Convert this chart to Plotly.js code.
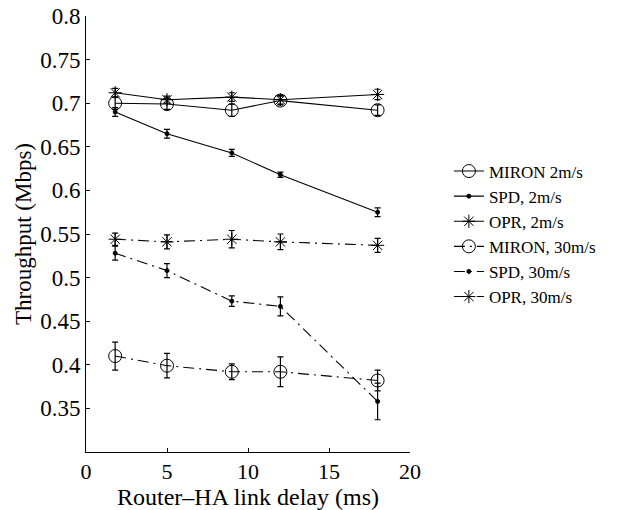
<!DOCTYPE html>
<html>
<head>
<meta charset="utf-8">
<script src="https://cdn.plot.ly/plotly-3.0.1.min.js"></script>
<style>html,body{margin:0;padding:0;background:#fff;}#chart{width:632px;height:510px;}</style>
</head>
<body>
<div id="chart"></div>
<script>
const delays = [1.8, 5, 9, 12, 18];

const mironSlow = [0.700, 0.699, 0.692, 0.703, 0.692];
const mironSlowErr = [0.007, 0.006, 0.007, 0.005, 0.006];
const spdSlow = [0.690, 0.665, 0.643, 0.618, 0.575];
const spdSlowErr = [0.005, 0.005, 0.004, 0.003, 0.005];
const oprSlow = [0.712, 0.704, 0.707, 0.704, 0.710];
const oprSlowErr = [0.005, 0.004, 0.005, 0.005, 0.006];

const mironFast = [0.410, 0.399, 0.392, 0.392, 0.382];
const mironFastErr = [0.016, 0.014, 0.009, 0.017, 0.012];
const spdFast = [0.528, 0.508, 0.473, 0.467, 0.358];
const spdFastErr = [0.008, 0.008, 0.006, 0.011, 0.021];
const oprFast = [0.544, 0.541, 0.544, 0.541, 0.537];
const oprFastErr = [0.007, 0.008, 0.010, 0.009, 0.008];

const names = ['MIRON 2m/s', 'SPD, 2m/s', 'OPR, 2m/s', 'MIRON, 30m/s', 'SPD, 30m/s', 'OPR, 30m/s'];
const yTicks = [0.35, 0.4, 0.45, 0.5, 0.55, 0.6, 0.65, 0.7, 0.75, 0.8];
const yTickText = ['0.35', '0.4', '0.45', '0.5', '0.55', '0.6', '0.65', '0.7', '0.75', '0.8'];
const xTicks = [0, 5, 10, 15, 20];

const DASHDOT = '11px,5px,2px,5px';

function series(name, y, err, symbol, size, dash) {
  return {
    x: delays, y: y, name: name, type: 'scatter', mode: 'lines+markers',
    line: {color: '#000', width: 1.1, dash: dash},
    marker: {symbol: symbol, size: size, color: '#000', line: {color: '#000', width: 1}},
    error_y: {type: 'data', array: err, visible: true, color: '#000', thickness: 1.2, width: 3}
  };
}

const data = [
  series(names[0], mironSlow, mironSlowErr, 'circle-open', 13, 'solid'),
  series(names[1], spdSlow, spdSlowErr, 'circle', 4, 'solid'),
  series(names[2], oprSlow, oprSlowErr, 'asterisk-open', 11, 'solid'),
  series(names[3], mironFast, mironFastErr, 'circle-open', 13, DASHDOT),
  series(names[4], spdFast, spdFastErr, 'circle', 4, DASHDOT),
  series(names[5], oprFast, oprFastErr, 'asterisk-open', 11, DASHDOT)
];

const FAM = 'Liberation Serif, Times New Roman, DejaVu Serif, serif';

const layout = {
  width: 632, height: 510,
  margin: {l: 86, r: 222, t: 16, b: 58},
  paper_bgcolor: '#fff', plot_bgcolor: '#fff',
  font: {family: FAM, size: 20, color: '#000'},
  showlegend: true,
  legend: {
    x: 1.12, y: 0.5, xanchor: 'left', yanchor: 'middle',
    font: {family: FAM, size: 17, color: '#000'},
    bgcolor: 'rgba(0,0,0,0)', tracegroupgap: 0
  },
  xaxis: {
    range: [0, 20], tickvals: xTicks, ticks: 'inside', ticklen: 4, tickcolor: '#000',
    showline: true, linecolor: '#000', linewidth: 1, showgrid: false, zeroline: false,
    tickfont: {family: FAM, size: 22, color: '#000'},
    title: {text: 'Router–HA link delay (ms)', font: {family: FAM, size: 24, color: '#000'}, standoff: 0}
  },
  yaxis: {
    range: [0.3, 0.8], tickvals: yTicks, ticktext: yTickText, ticks: 'inside', ticklen: 4, tickcolor: '#000',
    showline: true, linecolor: '#000', linewidth: 1, showgrid: false, zeroline: false,
    tickfont: {family: FAM, size: 23, color: '#000'},
    title: {text: 'Throughput (Mbps)', font: {family: FAM, size: 23, color: '#000'}, standoff: 2}
  }
};

Plotly.newPlot('chart', data, layout, {displayModeBar: false, staticPlot: true});
</script>
</body>
</html>
